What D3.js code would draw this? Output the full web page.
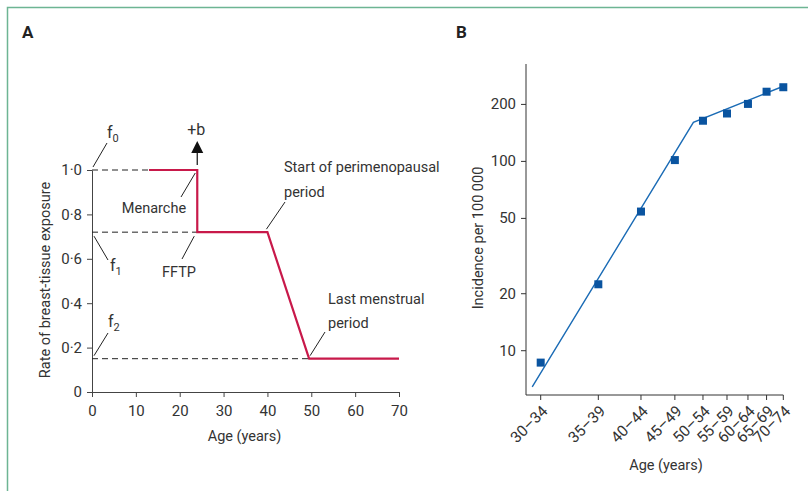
<!DOCTYPE html>
<html>
<head>
<meta charset="utf-8">
<script src="https://cdn.jsdelivr.net/npm/d3@7"></script>
<style>
  body { margin: 0; background: #fff; }
  svg text { font-family: Roboto, "Liberation Sans", sans-serif; fill: #333; }
</style>
</head>
<body>
<svg id="chart" width="808" height="491"></svg>
<script>
// panel A: exposure model
const exposureAge = [13, 24, 24, 40, 49.5, 70];
const exposureRate = [1.0, 1.0, 0.72, 0.72, 0.15, 0.15];
const levelNames = ['f0', 'f1', 'f2'];
const levelRate = [1.0, 0.72, 0.15];
const levelEnd = [13, 24, 49.5];
const ageTicksA = [0, 10, 20, 30, 40, 50, 60, 70];
const rateTicks = [0, 0.2, 0.4, 0.6, 0.8, 1.0];

// panel B: incidence by age group
const ageGroups = ['30–34', '35–39', '40–44', '45–49', '50–54', '55–59', '60–64', '65–69', '70–74'];
const groupMid = [32, 37, 42, 47, 52, 57, 62, 67, 72];
const incidence = [8.6, 22.3, 54, 101, 163, 178, 200, 232, 245];
const fitMid = [31.4, 50.2, 72];
const fitValue = [6.4, 160, 248];
const incidenceTicks = [10, 20, 50, 100, 200];

const svg = d3.select('#chart');
const red = '#c8194a';
const blue = '#0a54a0';
const fontFam = 'Roboto, sans-serif';

// frame
svg.append('rect').attr('x', 7.5).attr('y', 7.5).attr('width', 900).attr('height', 600)
  .attr('fill', 'none').attr('stroke', '#6db593').attr('stroke-width', 1.5);

svg.append('text').attr('x', 22).attr('y', 38).text('A').style('font-weight', 'bold').style('font-size', '17px').style('fill', '#222');
svg.append('text').attr('x', 456).attr('y', 38).text('B').style('font-weight', 'bold').style('font-size', '17px').style('fill', '#222');

// ---------- panel A ----------
const xA = d3.scaleLinear().domain([0, 70]).range([92, 399]);
const yA = d3.scaleLinear().domain([0, 1]).range([392, 170]);
const gA = svg.append('g');

const fmtDot = function(d) {
  return d === 0 ? '0' : d3.format('.1f')(d).replace('.', '·');
};

gA.append('g').attr('transform', 'translate(0,' + yA(0) + ')')
  .call(d3.axisBottom(xA).tickValues(ageTicksA).tickSize(5).tickSizeOuter(0).tickPadding(8))
  .call(function(g) {
    g.select('.domain').attr('stroke', '#444');
    g.selectAll('.tick line').attr('stroke', '#444');
    g.selectAll('text').style('font-size', '15px').style('font-family', fontFam).attr('fill', '#333');
  });

gA.append('g').attr('transform', 'translate(' + xA(0) + ',0)')
  .call(d3.axisLeft(yA).tickValues(rateTicks).tickFormat(fmtDot).tickSize(5).tickSizeOuter(0).tickPadding(5))
  .call(function(g) {
    g.select('.domain').attr('stroke', '#444');
    g.selectAll('.tick line').attr('stroke', '#444');
    g.selectAll('text').style('font-size', '15px').style('font-family', fontFam).attr('fill', '#333');
  });

// dashed reference levels
gA.selectAll('line.level').data(levelRate).enter().append('line').attr('class', 'level')
  .attr('x1', xA(0)).attr('x2', function(d, i) { return xA(levelEnd[i]); })
  .attr('y1', function(d) { return yA(d); }).attr('y2', function(d) { return yA(d); })
  .attr('stroke', '#222').attr('stroke-width', 1).attr('stroke-dasharray', '6,4');

// exposure curve
const lineA = d3.line().x(function(d, i) { return xA(exposureAge[i]); }).y(function(d) { return yA(d); });
gA.append('path').datum(exposureRate).attr('d', lineA)
  .attr('fill', 'none').attr('stroke', red).attr('stroke-width', 2.2);

// +b arrow
const ax = xA(24);
gA.append('line').attr('x1', ax).attr('x2', ax).attr('y1', yA(1) - 5).attr('y2', yA(1) - 17)
  .attr('stroke', '#222').attr('stroke-width', 1.3);
gA.append('path').attr('d', 'M' + (ax - 6) + ',' + (yA(1) - 17) + 'L' + (ax + 6) + ',' + (yA(1) - 17) + 'L' + ax + ',' + (yA(1) - 29) + 'Z')
  .attr('fill', '#111');
gA.append('text').attr('x', ax - 1).attr('y', 135).attr('text-anchor', 'middle').style('font-size', '16px').text('+b');

// leader lines and annotations
const leaders = [
  [xA(0) + 1, yA(1) - 3, 107, 143],
  [xA(24) - 2, yA(1) + 3, 181, 197],
  [xA(24) - 3, yA(0.72) + 4, 182, 259],
  [xA(0) + 2, yA(0.72) + 4, 108, 260],
  [xA(40) - 1, yA(0.72) - 3, 285, 202],
  [xA(49.5) + 1, yA(0.15) - 3, 325, 332],
  [xA(0) + 2, yA(0.15) - 3, 108, 333]
];
gA.selectAll('line.leader').data(leaders).enter().append('line').attr('class', 'leader')
  .attr('x1', function(d) { return d[0]; }).attr('y1', function(d) { return d[1]; })
  .attr('x2', function(d) { return d[2]; }).attr('y2', function(d) { return d[3]; })
  .attr('stroke', '#222').attr('stroke-width', 1);

const note = function(x, y, str, anchor) {
  gA.append('text').attr('x', x).attr('y', y).attr('text-anchor', anchor || 'start')
    .style('font-size', '14.5px').text(str);
};
note(154, 213, 'Menarche', 'middle');
note(179, 277, 'FFTP', 'middle');
note(284, 172, 'Start of perimenopausal');
note(284, 197, 'period');
note(328, 304, 'Last menstrual');
note(328, 328, 'period');

// f0, f1, f2 labels with subscripts
const fPos = [[107, 138], [110, 271], [108, 327]];
levelNames.forEach(function(name, i) {
  const t = gA.append('text').attr('x', fPos[i][0]).attr('y', fPos[i][1]).style('font-size', '16px');
  t.append('tspan').text(name.charAt(0));
  t.append('tspan').attr('dy', 4).style('font-size', '11px').text(name.slice(1));
});

gA.append('text').attr('x', xA(35) - 1).attr('y', 441).attr('text-anchor', 'middle').style('font-size', '14.5px').text('Age (years)');
gA.append('text').attr('transform', 'translate(50,280) rotate(-90)').attr('text-anchor', 'middle')
  .style('font-size', '14.5px').text('Rate of breast-tissue exposure');

// ---------- panel B ----------
// age groups sit on a log(age - 20) axis
const xB = d3.scaleLog().domain([12, 52]).range([540.7, 783.3]);
const xAge = function(a) { return xB(a - 20); };
const yB = d3.scaleLog().domain([5.8, 325]).range([395, 64]);
const gB = svg.append('g');

gB.append('line').attr('x1', 526).attr('x2', 526).attr('y1', yB.range()[1]).attr('y2', yB.range()[0]).attr('stroke', '#333');
gB.append('line').attr('x1', 526).attr('x2', xAge(72)).attr('y1', 395).attr('y2', 395).attr('stroke', '#333');

const yAxisB = gB.append('g').attr('transform', 'translate(526,0)')
  .call(d3.axisLeft(yB).tickValues(incidenceTicks).tickFormat(d3.format('d')).tickSize(5).tickPadding(5));
yAxisB.select('.domain').remove();
yAxisB.selectAll('.tick line').attr('stroke', '#333');
yAxisB.selectAll('text').style('font-size', '15px').style('font-family', fontFam).attr('fill', '#333');

gB.selectAll('line.xtick').data(groupMid).enter().append('line').attr('class', 'xtick')
  .attr('x1', function(d) { return xAge(d); }).attr('x2', function(d) { return xAge(d); })
  .attr('y1', 395).attr('y2', 400).attr('stroke', '#333');

gB.selectAll('text.xlab').data(ageGroups).enter().append('text').attr('class', 'xlab')
  .attr('text-anchor', 'end').style('font-size', '15.5px')
  .attr('transform', function(d, i) { return 'translate(' + (xAge(groupMid[i]) + 8) + ',412) rotate(-45)'; })
  .text(function(d) { return d; });

const lineB = d3.line().x(function(d, i) { return xAge(fitMid[i]); }).y(function(d) { return yB(d); });
gB.append('path').datum(fitValue).attr('d', lineB).attr('fill', 'none').attr('stroke', '#1a6bb5').attr('stroke-width', 1.4);

gB.selectAll('rect.pt').data(incidence).enter().append('rect').attr('class', 'pt')
  .attr('x', function(d, i) { return xAge(groupMid[i]) - 4; })
  .attr('y', function(d) { return yB(d) - 4; })
  .attr('width', 8).attr('height', 8).attr('fill', blue);

gB.append('text').attr('x', 666).attr('y', 470).attr('text-anchor', 'middle').style('font-size', '14.5px').text('Age (years)');
gB.append('text').attr('transform', 'translate(483,238) rotate(-90)').attr('text-anchor', 'middle')
  .style('font-size', '14.5px').text('Incidence per 100 000');
</script>
</body>
</html>
